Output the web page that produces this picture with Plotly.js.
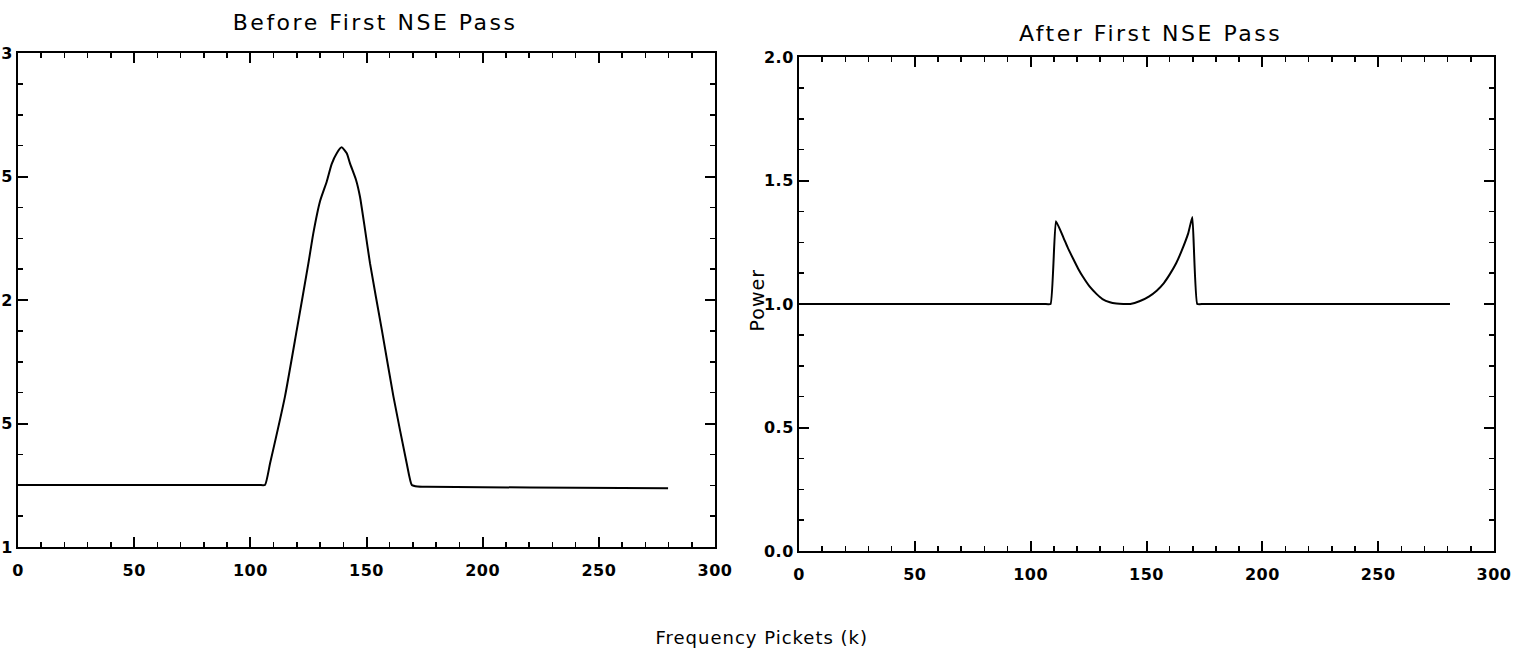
<!DOCTYPE html>
<html>
<head>
<meta charset="utf-8">
<script src="https://cdn.plot.ly/plotly-3.0.1.min.js"></script>
<style>
html,body{margin:0;padding:0;background:#fff;}
#chart{width:1523px;height:660px;}
g.annotation[data-index="0"] text, g.annotation[data-index="1"] text{letter-spacing:2.5px;}
g.annotation[data-index="2"] text, g.annotation[data-index="3"] text{letter-spacing:1px;}
.xtick text, .ytick text, .x2tick text, .y2tick text{letter-spacing:0.5px;}
</style>
</head>
<body>
<div id="chart"></div>
<script>
// Left panel: before first NSE pass
const xBefore = [0, 50, 100, 104, 106.3, 108.5, 114.9, 120.0, 125.0, 127.1, 130.0, 132.9, 135.0, 137.2, 139.3, 141.5, 142.9, 145.5, 147.2, 149.4, 151.5, 156.6, 161.6, 167.3, 169.5, 172, 176, 200, 240, 279.8];
const yBefore = [1.251, 1.251, 1.251, 1.251, 1.251, 1.339, 1.609, 1.879, 2.149, 2.270, 2.400, 2.480, 2.550, 2.594, 2.618, 2.594, 2.553, 2.486, 2.418, 2.283, 2.149, 1.879, 1.609, 1.339, 1.251, 1.245, 1.244, 1.242, 1.240, 1.238];
// Right panel: after first NSE pass
const xAfter = [0, 50, 100, 106, 108.6, 110.9, 114.1, 116, 118.4, 120.5, 122.7, 125.5, 128.5, 131, 134.2, 137, 140, 143, 147.2, 151, 154.4, 157.5, 160.1, 162.8, 165.2, 168, 169.8, 171.9, 174.5, 200, 250, 281];
const yAfter = [1.0, 1.0, 1.0, 1.0, 1.0, 1.335, 1.270, 1.228, 1.182, 1.143, 1.108, 1.07, 1.040, 1.02, 1.007, 1.002, 1.0, 1.0, 1.012, 1.03, 1.054, 1.085, 1.121, 1.165, 1.216, 1.286, 1.352, 1.0, 1.0, 1.0, 1.0, 1.0];

const leftTickVals = [1, 1.5, 2, 2.5, 3];
const rightTickVals = [0, 0.5, 1.0, 1.5, 2.0];
const rightTickText = ['0.0', '0.5', '1.0', '1.5', '2.0'];
const xTickVals = [0, 50, 100, 150, 200, 250, 300];

const W = 1523, H = 660;
const tickFont = {family: 'DejaVu Sans, sans-serif', size: 16, color: '#000', weight: 'bold'};

function xAxis(dom, anchor) {
  return {
    domain: dom, anchor: anchor, range: [0, 300],
    tickvals: xTickVals, ticks: 'inside', ticklen: 10, tickwidth: 2, tickcolor: '#000',
    minor: {dtick: 10, tick0: 0, ticks: 'inside', ticklen: 5, tickwidth: 1.5, tickcolor: '#000'},
    showline: true, linecolor: '#000', linewidth: 2, mirror: 'allticks',
    showgrid: false, zeroline: false, tickfont: tickFont, ticklabelstandoff: 8
  };
}
function yAxis(dom, anchor, range, vals, text, minorStep) {
  const a = {
    domain: dom, anchor: anchor, range: range,
    tickvals: vals, ticks: 'inside', ticklen: 10, tickwidth: 2, tickcolor: '#000',
    minor: {dtick: minorStep, tick0: range[0], ticks: 'inside', ticklen: 5, tickwidth: 1.5, tickcolor: '#000'},
    showline: true, linecolor: '#000', linewidth: 2, mirror: 'allticks',
    showgrid: false, zeroline: false, tickfont: tickFont, ticklabelstandoff: 0
  };
  if (text) a.ticktext = text;
  return a;
}

const traces = [
  {x: xBefore, y: yBefore, type: 'scatter', mode: 'lines', xaxis: 'x', yaxis: 'y',
   line: {color: '#000', width: 2, shape: 'spline', smoothing: 0.5}, hoverinfo: 'skip'},
  {x: xAfter, y: yAfter, type: 'scatter', mode: 'lines', xaxis: 'x2', yaxis: 'y2',
   line: {color: '#000', width: 2, shape: 'spline', smoothing: 0.35}, hoverinfo: 'skip'}
];

const layout = {
  width: W, height: H,
  margin: {l: 0, r: 0, t: 0, b: 0},
  paper_bgcolor: '#fff', plot_bgcolor: '#fff',
  showlegend: false,
  xaxis: xAxis([18 / W, 715 / W], 'y'),
  yaxis: yAxis([(H - 547) / H, (H - 53) / H], 'x', [1, 3], leftTickVals, null, 0.125),
  xaxis2: xAxis([799 / W, 1494 / W], 'y2'),
  yaxis2: yAxis([(H - 551) / H, (H - 57) / H], 'x2', [0, 2], rightTickVals, rightTickText, 0.125),
  annotations: [
    {text: 'Before First NSE Pass', xref: 'paper', yref: 'paper', x: 375 / W, y: (H - 23) / H,
     xanchor: 'center', yanchor: 'middle', showarrow: false,
     font: {family: 'DejaVu Sans, sans-serif', size: 22, color: '#000'}},
    {text: 'After First NSE Pass', xref: 'paper', yref: 'paper', x: 1150 / W, y: (H - 33) / H,
     xanchor: 'center', yanchor: 'middle', showarrow: false,
     font: {family: 'DejaVu Sans, sans-serif', size: 22, color: '#000'}},
    {text: 'Power', xref: 'paper', yref: 'paper', x: 757 / W, y: (H - 300) / H,
     xanchor: 'center', yanchor: 'middle', showarrow: false, textangle: -90,
     font: {family: 'DejaVu Sans, sans-serif', size: 19, color: '#000'}},
    {text: 'Frequency Pickets (k)', xref: 'paper', yref: 'paper', x: 762 / W, y: (H - 637) / H,
     xanchor: 'center', yanchor: 'middle', showarrow: false,
     font: {family: 'DejaVu Sans, sans-serif', size: 18, color: '#000'}}
  ]
};

Plotly.newPlot('chart', traces, layout, {staticPlot: true, displayModeBar: false});
</script>
</body>
</html>
